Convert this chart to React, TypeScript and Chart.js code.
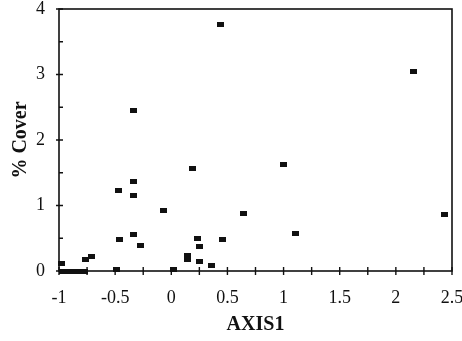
import React, { useEffect, useRef } from "react";
import { Chart, registerables } from "chart.js";

Chart.register(...registerables);

// AXIS1 ordination scores and the matching % cover of each plot
const axis1Scores = [
  0.44, 2.16, -0.34, 0.19, 1.0, -0.34, -0.47, -0.34, -0.07, 0.64, 2.43,
  1.11, -0.34, -0.46, 0.23, 0.46, -0.27, 0.25, 0.14, 0.14, 0.25, 0.36,
  -0.71, -0.76, -0.98, -0.49, 0.02, -0.97, -0.92, -0.87, -0.82, -0.77,
];
const coverValues = [
  3.77, 3.04, 2.45, 1.56, 1.62, 1.37, 1.23, 1.16, 0.93, 0.88, 0.86,
  0.58, 0.56, 0.48, 0.49, 0.48, 0.39, 0.37, 0.23, 0.17, 0.14, 0.09,
  0.22, 0.17, 0.11, 0.03, 0.03, 0, 0, 0, 0, 0,
];

const xRange = [-1, 2.5];
const yRange = [0, 4];
const xTickStep = 0.25;
const yTickStep = 0.5;

const SERIF = "'Liberation Serif', 'Times New Roman', serif";

function makeMarker(): HTMLCanvasElement {
  const c = document.createElement("canvas");
  c.width = 7;
  c.height = 5;
  const g = c.getContext("2d")!;
  g.fillStyle = "#111";
  g.fillRect(0, 0, 7, 5);
  return c;
}

// Box around the plot plus hand-drawn tick marks (crossing on x, inward on y)
const framePlugin = {
  id: "frame",
  afterDraw(chart: any) {
    const { ctx, chartArea, scales } = chart;
    ctx.save();
    ctx.strokeStyle = "#111";
    ctx.lineWidth = 1.6;
    ctx.strokeRect(chartArea.left, chartArea.top, chartArea.right - chartArea.left, chartArea.bottom - chartArea.top);
    ctx.lineWidth = 1.4;
    ctx.beginPath();
    for (const t of scales.x.ticks) {
      const px = scales.x.getPixelForValue(t.value);
      ctx.moveTo(px, chartArea.bottom - 4);
      ctx.lineTo(px, chartArea.bottom + 4);
    }
    for (const t of scales.y.ticks) {
      const py = scales.y.getPixelForValue(t.value);
      const major = Math.abs(t.value - Math.round(t.value)) < 1e-6;
      ctx.moveTo(chartArea.left - (major ? 3 : 0), py);
      ctx.lineTo(chartArea.left + 4, py);
    }
    ctx.stroke();
    ctx.restore();
  },
};

export default function App() {
  const canvasRef = useRef<HTMLCanvasElement | null>(null);

  useEffect(() => {
    if (!canvasRef.current) return;
    const points = axis1Scores.map((x, i) => ({ x, y: coverValues[i] }));
    const chart = new Chart(canvasRef.current, {
      type: "scatter",
      data: {
        datasets: [
          {
            data: points,
            pointStyle: makeMarker(),
            pointRadius: 4,
            clip: false,
          } as any,
        ],
      },
      options: {
        animation: false,
        responsive: false,
        layout: { padding: { top: 9, right: 10, left: 0, bottom: 0 } },
        plugins: { legend: { display: false }, tooltip: { enabled: false } },
        scales: {
          x: {
            type: "linear",
            min: xRange[0],
            max: xRange[1],
            afterFit: (s: any) => {
              s.height = 70;
              s.paddingLeft = 0;
              s.paddingRight = 0;
            },
            ticks: {
              stepSize: xTickStep,
              autoSkip: false,
              maxRotation: 0,
              padding: 16,
              color: "#111",
              font: { family: SERIF, size: 18 },
              callback: (v: any) =>
                Math.abs(v * 2 - Math.round(v * 2)) < 1e-6 ? String(Math.round(v * 10) / 10) : "",
            },
            grid: { display: true, drawOnChartArea: false, drawTicks: false },
            border: { display: false },
            title: {
              display: true,
              text: "AXIS1",
              color: "#111",
              font: { family: SERIF, size: 20, weight: "bold" },
              padding: { top: 0, bottom: 4 },
            },
          },
          y: {
            type: "linear",
            min: yRange[0],
            max: yRange[1],
            afterFit: (s: any) => {
              s.width = 59;
              s.paddingTop = 0;
              s.paddingBottom = 0;
            },
            ticks: {
              stepSize: yTickStep,
              autoSkip: false,
              padding: 14,
              color: "#111",
              font: { family: SERIF, size: 18 },
              callback: (v: any) =>
                Math.abs(v - Math.round(v)) < 1e-6 ? String(Math.round(v)) : "",
            },
            grid: { display: true, drawOnChartArea: false, drawTicks: false },
            border: { display: false },
            title: {
              display: true,
              text: "% Cover",
              color: "#111",
              font: { family: SERIF, size: 20, weight: "bold" },
              padding: { top: 9, bottom: 0 },
            },
          },
        },
      },
      plugins: [framePlugin],
    });
    return () => chart.destroy();
  }, []);

  return (
    <div style={{ position: "fixed", left: 0, top: 0, width: 462, height: 341, background: "#fff" }}>
      <canvas ref={canvasRef} width={462} height={341} style={{ width: 462, height: 341 }} />
    </div>
  );
}
